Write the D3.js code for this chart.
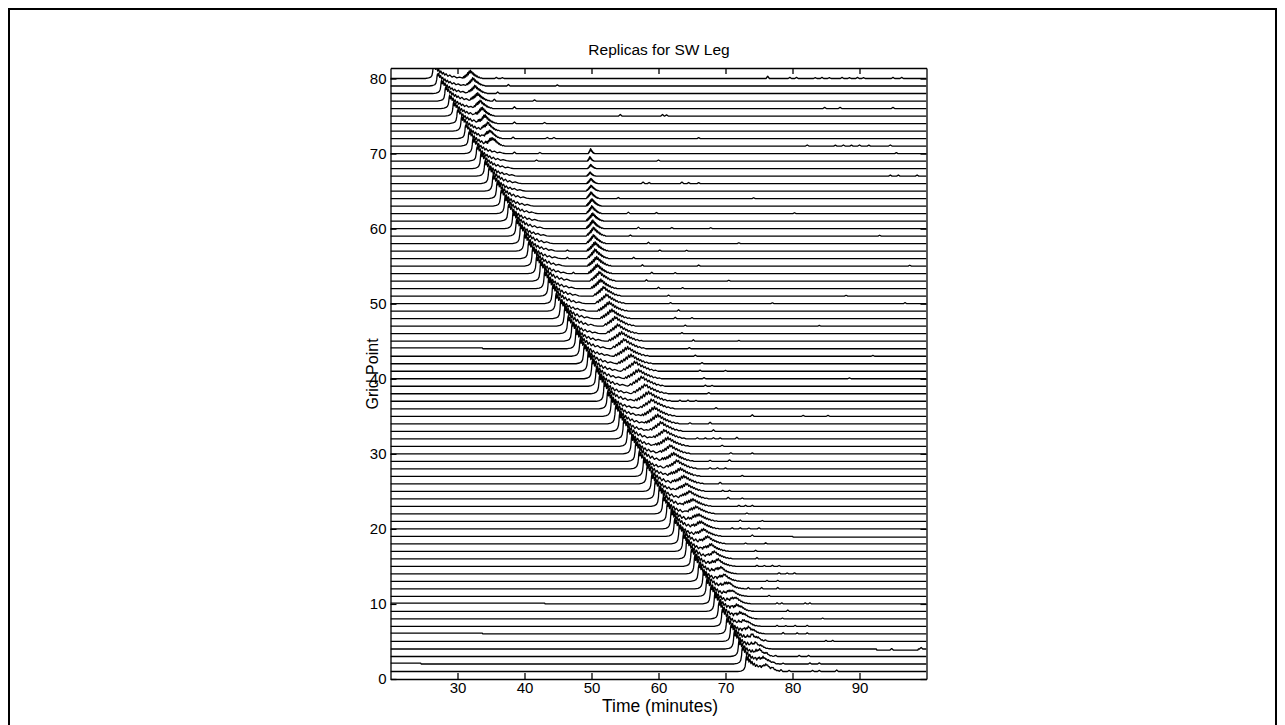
<!DOCTYPE html>
<html>
<head>
<meta charset="utf-8">
<script src="https://cdn.jsdelivr.net/npm/d3@7"></script>
<style>
  body { margin: 0; background: #fff; }
  svg { display: block; font-family: "Liberation Sans", Arial, Helvetica, sans-serif; }
</style>
</head>
<body>
<svg id="chart" width="1285" height="725"></svg>
<script>
// ---------------- DATA ----------------
const gridPoints = [1,2,3,4,5,6,7,8,9,10,11,12,13,14,15,16,17,18,19,20,
  21,22,23,24,25,26,27,28,29,30,31,32,33,34,35,36,37,38,39,40,
  41,42,43,44,45,46,47,48,49,50,51,52,53,54,55,56,57,58,59,60,
  61,62,63,64,65,66,67,68,69,70,71,72,73,74,75,76,77,78,79,80];

// first (direct) arrival time, minutes, for each grid point
const arrivalTimes = [73.0,72.4,71.9,71.2,70.7,70.1,69.4,68.9,68.3,67.7,
  67.1,66.6,65.9,65.3,64.8,64.1,63.6,63.0,62.3,61.8,
  61.2,60.6,60.0,59.4,58.9,58.2,57.7,57.0,56.5,55.9,
  55.3,54.7,54.1,53.5,52.9,52.3,51.8,51.1,50.6,50.0,
  49.4,48.8,48.2,47.6,47.0,46.4,45.9,45.3,44.6,44.1,
  43.5,42.9,42.3,41.7,41.1,40.5,39.9,39.3,38.7,38.2,
  37.5,37.0,36.4,35.8,35.2,34.6,34.0,33.4,32.8,32.2,
  31.6,31.1,30.5,29.9,29.3,28.7,28.1,27.5,26.9,26.3];

// height of the direct arrival, in grid-point units
const peakHeights = [2.1,2.3,2.2,2.4,2.3,2.2,2.4,2.3,2.5,2.4,
  2.4,2.5,2.3,2.5,2.4,2.6,2.4,2.5,2.4,2.6,
  2.5,2.4,2.6,2.5,2.4,2.6,2.5,2.4,2.6,2.5,
  2.4,2.6,2.5,2.5,2.6,2.4,2.5,2.6,2.4,2.5,
  2.6,2.5,2.4,2.6,2.5,2.4,2.6,2.5,2.4,2.5,
  2.5,2.4,2.6,2.4,2.5,2.3,2.4,2.5,2.3,2.4,
  2.3,2.4,2.2,2.3,2.2,2.3,2.1,2.2,2.0,2.1,
  2.0,1.9,2.0,1.9,1.9,1.8,1.9,1.8,1.7,1.8];
// which of the two shapes each trace shows (direct / secondary arrival)
const pulseVariant = [0,1,0,0,1,0,1,1,0,1,0,0,1,0,1,1,0,1,0,0,
  1,0,1,1,0,1,0,0,1,0,1,1,0,1,0,0,1,0,1,1,
  0,1,0,0,1,0,1,1,0,1,0,0,1,0,1,1,0,1,0,0,
  1,0,1,1,0,1,0,0,1,0,1,1,0,1,0,0,1,0,1,1];
const bumpVariant = [1,0,0,1,0,1,1,0,0,1,1,0,1,0,0,1,0,1,1,0,
  0,1,0,1,1,0,0,1,0,1,0,1,1,0,0,1,0,1,1,0,
  1,0,0,1,0,1,1,0,0,1,1,0,1,0,0,1,0,1,1,0,
  0,1,0,1,1,0,0,1,0,1,0,1,1,0,0,1,0,1,1,0];

// later (secondary) arrival: start time, height, duration factor
const secondTimes = [74.6,74.1,73.6,73.0,72.6,72.0,71.4,70.9,70.4,69.9,
  69.4,68.9,68.3,67.8,67.3,66.8,66.3,65.8,65.2,64.8,
  64.3,63.9,63.4,62.9,62.4,61.9,61.4,60.9,60.4,59.9,
  59.4,58.9,58.4,57.9,57.4,56.9,56.4,55.9,55.4,54.9,
  54.4,53.9,53.4,52.9,52.5,52.1,51.7,51.3,50.9,50.5,
  50.2,49.9,49.7,49.5,49.4,49.3,49.3,49.2,49.2,49.2,
  49.2,49.2,49.2,49.2,49.2,49.3,49.3,49.4,49.4,49.5,
  34.1,33.7,33.4,33.0,32.6,32.3,31.9,31.5,31.2,30.8];
const secondHeights = [0.6,0.65,0.65,0.6,0.65,0.7,0.65,0.7,0.7,0.75,
  0.7,0.75,0.8,0.8,0.85,0.9,0.9,0.95,0.95,1.0,
  1.0,1.05,1.05,1.1,1.1,1.15,1.15,1.2,1.2,1.2,
  1.25,1.25,1.3,1.3,1.3,1.3,1.35,1.3,1.35,1.3,
  1.35,1.3,1.3,1.35,1.3,1.3,1.3,1.3,1.3,1.3,
  1.3,1.3,1.3,1.3,1.3,1.3,1.25,1.2,1.2,1.15,
  1.1,1.05,1.0,0.9,0.8,0.7,0.55,0.55,0.6,0.65,
  1.0,1.0,1.05,1.05,1.1,1.1,1.1,1.1,1.1,1.1];
const secondWidths = [0.6,0.6,0.6,0.6,0.6,0.6,0.6,0.6,0.6,0.6,
  0.6,0.6,0.6,0.6,0.65,0.65,0.65,0.65,0.65,0.65,
  0.7,0.7,0.7,0.7,0.7,0.75,0.75,0.75,0.75,0.75,
  0.8,0.8,0.8,0.8,0.8,0.85,0.85,0.85,0.85,0.85,
  0.85,0.8,0.8,0.8,0.8,0.75,0.75,0.7,0.7,0.7,
  0.65,0.6,0.6,0.55,0.55,0.5,0.5,0.45,0.45,0.4,
  0.4,0.35,0.35,0.3,0.3,0.25,0.2,0.2,0.15,0.15,
  0.45,0.45,0.45,0.45,0.45,0.45,0.45,0.45,0.45,0.45];

// shapes of the direct arrival: [minutes after arrival, relative height]
const pulseShapeA = [[-1.2,0],[-0.7,0.03],[-0.4,0.08],[-0.2,0.17],[-0.07,0.32],[0,0.55],
  [0.06,0.85],[0.14,1.0],[0.24,0.72],[0.36,0.92],[0.5,0.6],[0.64,0.78],[0.8,0.5],
  [0.96,0.64],[1.12,0.4],[1.3,0.52],[1.48,0.32],[1.68,0.42],[1.88,0.22],[2.08,0.32],
  [2.36,0.15],[2.64,0.24],[2.95,0.1],[3.3,0.16],[3.7,0.05],[4.1,0.09],[4.6,0.02],[5.0,0]];
const pulseShapeB = [[-1.1,0],[-0.6,0.04],[-0.3,0.1],[-0.12,0.22],[0,0.5],[0.05,0.8],
  [0.12,0.95],[0.2,0.8],[0.3,1.0],[0.44,0.68],[0.58,0.82],[0.74,0.55],[0.9,0.68],
  [1.06,0.42],[1.22,0.56],[1.42,0.33],[1.6,0.45],[1.8,0.25],[2.0,0.35],[2.28,0.16],
  [2.55,0.26],[2.88,0.1],[3.2,0.17],[3.6,0.05],[4.0,0.1],[4.5,0.03],[5.0,0]];
// shapes of the secondary arrival: [scaled minutes, relative height]
const bumpShapeA = [[0,0],[0.25,0.2],[0.45,0.05],[0.7,0.35],[0.9,0.15],[1.15,0.5],[1.35,0.3],
  [1.6,0.7],[1.8,0.45],[2.05,0.9],[2.25,0.65],[2.5,1.0],[2.7,0.7],[2.95,0.85],[3.15,0.55],
  [3.4,0.7],[3.6,0.4],[3.85,0.55],[4.05,0.3],[4.3,0.42],[4.55,0.2],[4.8,0.3],[5.1,0.1],
  [5.4,0.18],[5.8,0.04],[6.2,0.08],[6.5,0]];
const bumpShapeB = [[0,0],[0.3,0.1],[0.5,0.25],[0.75,0.12],[1.0,0.42],[1.2,0.28],[1.45,0.62],
  [1.65,0.4],[1.9,0.8],[2.1,0.6],[2.35,1.0],[2.55,0.78],[2.8,0.92],[3.0,0.6],[3.25,0.75],
  [3.5,0.45],[3.75,0.6],[4.0,0.35],[4.25,0.45],[4.5,0.22],[4.75,0.32],[5.05,0.12],
  [5.35,0.2],[5.75,0.05],[6.1,0.1],[6.5,0]];
// shape of a small wiggle
const blipShape = [[-0.25,0],[0,1],[0.25,0]];

// small wiggles: [grid point, time, height]
const blips = [
 [80,35.8,0.15],[80,36.7,0.12],[80,76.3,0.3],[80,79.6,0.15],[80,80.6,0.15],[80,83.4,0.12],[80,84.4,0.15],[80,85.5,0.12],[80,87.4,0.15],[80,88.5,0.12],[80,89.7,0.15],[80,90.6,0.12],[80,95.0,0.15],[80,96.3,0.15],
 [79,37.6,0.2],[79,44.9,0.15],[78,36.0,0.2],[77,35.5,0.25],[77,41.5,0.15],
 [76,38.5,0.25],[76,84.8,0.15],[76,87.1,0.15],[76,95.0,0.15],
 [75,54.3,0.2],[75,60.6,0.2],[75,61.2,0.15],[74,38.5,0.2],[74,43.0,0.15],
 [72,38.3,0.2],[72,43.4,0.15],[72,44.4,0.15],[72,66.0,0.12],
 [71,82.2,0.15],[71,86.4,0.12],[71,87.6,0.15],[71,88.8,0.12],[71,90.0,0.15],[71,91.4,0.12],[71,94.6,0.15],
 [70,38.5,0.2],[70,42.3,0.15],[70,95.5,0.12],[69,41.8,0.15],[69,60.0,0.15],
 [67,94.6,0.15],[67,95.8,0.15],[67,98.6,0.15],
 [66,57.7,0.2],[66,58.6,0.15],[66,63.5,0.2],[66,64.5,0.15],[66,66.0,0.12],
 [64,54.0,0.15],[64,74.2,0.12],[62,55.5,0.2],[62,59.7,0.15],[62,80.3,0.12],
 [60,57.0,0.2],[60,62.0,0.15],[60,67.8,0.12],[59,55.8,0.15],[59,93.0,0.12],
 [58,58.5,0.2],[58,72.0,0.12],[57,46.4,0.15],[57,60.2,0.15],[57,64.2,0.12],
 [56,46.4,0.2],[56,56.3,0.2],[55,57.6,0.2],[55,66.0,0.15],[55,97.5,0.12],
 [54,47.3,0.2],[54,59.0,0.2],[54,62.5,0.15],[53,58.2,0.2],[53,70.5,0.12],
 [52,60.0,0.2],[52,63.6,0.15],[51,61.5,0.15],[51,88.0,0.12],
 [50,61.8,0.15],[50,77.0,0.12],[50,96.8,0.15],[49,63.0,0.2],[48,62.5,0.2],[48,65.0,0.15],
 [47,64.0,0.15],[47,84.0,0.12],[46,63.5,0.15],[45,65.2,0.2],[45,72.0,0.12],
 [44,64.6,0.15],[43,65.5,0.15],[43,92.0,0.12],[42,66.5,0.15],[41,66.2,0.15],[41,70.0,0.12],
 [40,66.8,0.15],[40,88.5,0.12],[39,67.0,0.15],[39,68.0,0.12],[38,67.5,0.15],
 [37,63.2,0.15],[37,64.4,0.15],[37,65.6,0.12],[36,68.6,0.15],
 [35,74.0,0.2],[35,81.6,0.12],[35,85.3,0.12],[34,64.7,0.15],[34,67.7,0.2],[33,68.2,0.2],
 [32,65.8,0.15],[32,67.0,0.12],[32,68.2,0.15],[32,69.2,0.12],[32,71.7,0.2],[31,69.5,0.15],
 [30,70.8,0.15],[30,74.0,0.12],[29,67.7,0.15],[29,70.6,0.2],
 [28,67.7,0.15],[28,68.8,0.15],[28,70.0,0.12],[27,72.5,0.12],[26,69.2,0.2],
 [25,69.6,0.15],[25,70.6,0.15],[24,70.4,0.2],[24,72.5,0.12],
 [23,72.0,0.15],[23,73.0,0.15],[23,74.0,0.15],[22,73.2,0.12],[21,72.2,0.2],[21,75.5,0.12],
 [20,71.0,0.15],[20,72.2,0.15],[20,73.5,0.12],[20,75.0,0.15],[19,74.0,0.2],
 [18,73.0,0.12],[18,76.0,0.15],[17,74.5,0.15],[16,74.7,0.2],
 [15,74.7,0.15],[15,75.8,0.12],[15,77.0,0.15],[15,78.0,0.12],
 [14,78.0,0.15],[14,79.2,0.12],[14,80.3,0.15],[13,76.2,0.15],[13,77.8,0.15],
 [12,73.4,0.2],[12,75.4,0.2],[12,77.8,0.2],[11,76.5,0.15],
 [10,77.7,0.15],[10,78.4,0.15],[10,81.9,0.15],[10,82.6,0.15],[9,79.3,0.2],
 [8,78.5,0.12],[8,84.5,0.12],[7,77.7,0.15],[7,79.0,0.12],[7,80.4,0.15],[7,82.2,0.15],
 [6,78.6,0.2],[6,80.7,0.15],[6,82.2,0.15],
 [5,74.0,0.15],[5,75.0,0.12],[5,76.0,0.15],[5,85.0,0.15],[5,86.0,0.15],[4,94.8,0.2],[4,99.2,0.2],
 [3,75.0,0.15],[3,76.2,0.12],[3,77.5,0.15],[3,81.0,0.15],[3,82.4,0.15],
 [2,76.0,0.15],[2,77.2,0.15],[2,78.6,0.12],[2,82.6,0.15],[2,84.0,0.15],
 [1,76.0,0.2],[1,77.0,0.15],[1,78.3,0.2],[1,79.5,0.15],[1,83.0,0.15],[1,84.0,0.15],[1,86.6,0.2]
];

// baseline offsets: [grid point, from time, to time, offset]
const levelShifts = [[2,20,24.5,0.12],[6,20,33.7,0.12],[10,20,43.0,0.12],[44,20,33.7,0.12],
  [4,92.6,98.7,-0.15],[19,80.1,100,-0.1]];

const xDomain = [20, 100];
const yDomain = [0, 81.4];
const xTickValues = [30, 40, 50, 60, 70, 80, 90];
const yTickValues = [0, 10, 20, 30, 40, 50, 60, 70, 80];
const titleText = "Replicas for SW Leg";
const xLabelText = "Time (minutes)";
const yLabelText = "Grid Point";

// ---------------- DRAWING ----------------
const svg = d3.select("#chart");
const x = d3.scaleLinear().domain(xDomain).range([390.5, 926.5]);
const y = d3.scaleLinear().domain(yDomain).range([679, 68]);

svg.append("rect").attr("x", 9).attr("y", 9).attr("width", 1267).attr("height", 800)
  .attr("fill", "none").attr("stroke", "#000").attr("stroke-width", 2);

svg.append("clipPath").attr("id", "plotClip").append("rect")
  .attr("x", x(xDomain[0])).attr("y", y(yDomain[1]))
  .attr("width", x(xDomain[1]) - x(xDomain[0])).attr("height", y(yDomain[0]) - y(yDomain[1]));

function interp(comp, t) {
  const n = comp.length;
  if (t < comp[0][0] || t > comp[n - 1][0]) return 0;
  for (let k = 1; k < n; k++) {
    if (t <= comp[k][0]) {
      const [t0, v0] = comp[k - 1], [t1, v1] = comp[k];
      if (t1 === t0) return v1;
      return v0 + (v1 - v0) * (t - t0) / (t1 - t0);
    }
  }
  return comp[0][1];
}

function traceComponents(i) {
  const g = gridPoints[i];
  const comps = [];
  const shape = pulseVariant[i] ? pulseShapeB : pulseShapeA;
  const bump = bumpVariant[i] ? bumpShapeB : bumpShapeA;
  comps.push(shape.map(([d, a]) => [arrivalTimes[i] + d, a * peakHeights[i]]));
  comps.push(bump.map(([d, a]) => [secondTimes[i] + d * secondWidths[i], a * secondHeights[i]]));
  blips.filter(b => b[0] === g).forEach(b => comps.push(blipShape.map(([d, a]) => [b[1] + d, a * b[2]])));
  levelShifts.filter(s => s[0] === g).forEach(s => {
    const c = [];
    if (s[1] > xDomain[0]) c.push([s[1] - 0.08, 0]);
    c.push([s[1], s[3]], [s[2], s[3]]);
    if (s[2] < xDomain[1]) c.push([s[2] + 0.08, 0]);
    comps.push(c);
  });
  return comps;
}

function tracePoints(i) {
  const comps = traceComponents(i);
  let times = [xDomain[0], xDomain[1]];
  comps.forEach(c => c.forEach(p => times.push(p[0])));
  times = Array.from(new Set(times.filter(t => t >= xDomain[0] && t <= xDomain[1]))).sort((a, b) => a - b);
  return times.map(t => [t, gridPoints[i] + d3.sum(comps, c => interp(c, t))]);
}

const line = d3.line().x(d => x(d[0])).y(d => y(d[1])).curve(d3.curveLinear);

const plot = svg.append("g").attr("clip-path", "url(#plotClip)");
plot.selectAll("path.trace")
  .data(gridPoints.map((g, i) => tracePoints(i)))
  .join("path")
  .attr("class", "trace")
  .attr("d", line)
  .attr("fill", "none")
  .attr("stroke", "#000")
  .attr("stroke-width", 1.3)
  .attr("stroke-linejoin", "round");

// axes (ticks inside, box on all four sides)
const tickFont = 15;
const gB = svg.append("g").attr("transform", `translate(0,${y(yDomain[0])})`)
  .call(d3.axisBottom(x).tickValues(xTickValues).tickSizeInner(-6).tickSizeOuter(0).tickPadding(3));
const gT = svg.append("g").attr("transform", `translate(0,${y(yDomain[1])})`)
  .call(d3.axisTop(x).tickValues(xTickValues).tickSizeInner(-6).tickSizeOuter(0).tickFormat(""));
const gL = svg.append("g").attr("transform", `translate(${x(xDomain[0])},0)`)
  .call(d3.axisLeft(y).tickValues(yTickValues).tickSizeInner(-6).tickSizeOuter(0).tickPadding(4));
const gR = svg.append("g").attr("transform", `translate(${x(xDomain[1])},0)`)
  .call(d3.axisRight(y).tickValues(yTickValues).tickSizeInner(-6).tickSizeOuter(0).tickFormat(""));

[gB, gT, gL, gR].forEach(g => {
  g.select(".domain").attr("stroke", "#000").attr("stroke-width", 1.3);
  g.selectAll(".tick line").attr("stroke", "#000").attr("stroke-width", 1.3);
  g.selectAll(".tick text").attr("fill", "#000")
    .style("font-family", '"Liberation Sans", Arial, sans-serif').style("font-size", tickFont + "px");
  g.attr("font-family", null).attr("font-size", null);
});

svg.append("text").attr("x", 659).attr("y", 55).attr("text-anchor", "middle")
  .style("font-size", "15.5px").attr("fill", "#000").text(titleText);
svg.append("text").attr("x", 660).attr("y", 712).attr("text-anchor", "middle")
  .style("font-size", "17.5px").attr("fill", "#000").text(xLabelText);
svg.append("text").attr("transform", "translate(378,374) rotate(-90)").attr("text-anchor", "middle")
  .style("font-size", "16px").attr("fill", "#000").text(yLabelText);
</script>
</body>
</html>
